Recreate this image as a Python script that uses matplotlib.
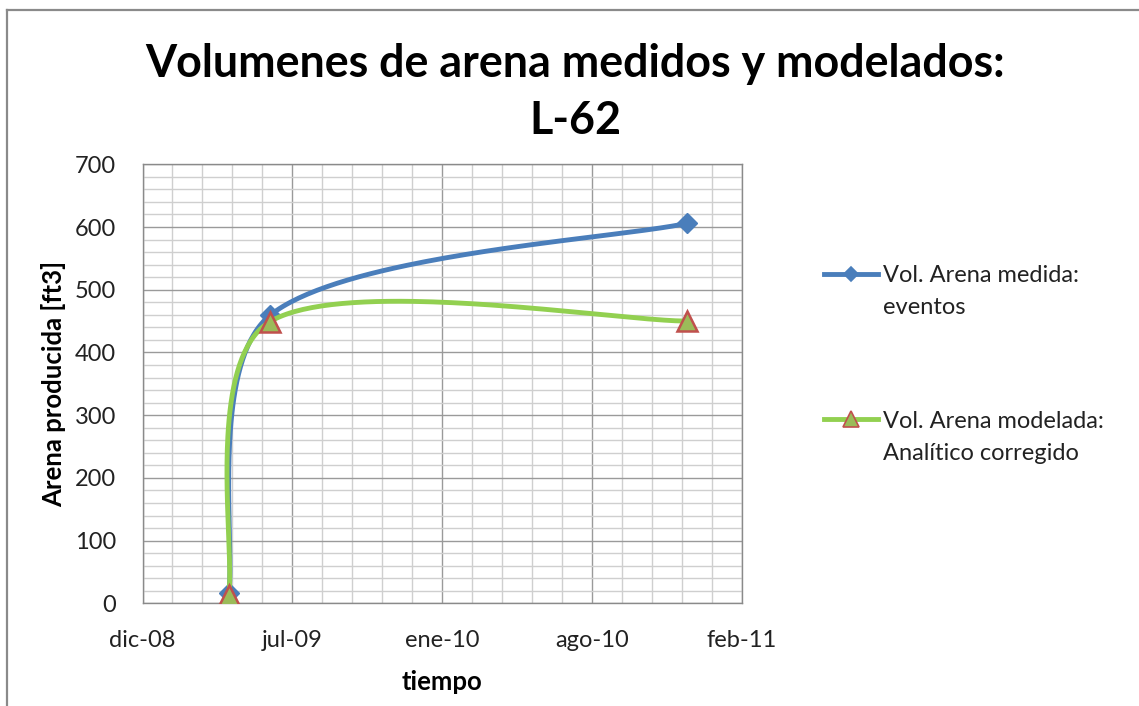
import numpy as np
import matplotlib
matplotlib.use('Agg')
import matplotlib.pyplot as plt
import matplotlib.dates as mdates
from matplotlib.lines import Line2D
from matplotlib.ticker import FixedLocator, NullFormatter
from datetime import datetime

plt.rcParams['font.family'] = ['Lato', 'DejaVu Sans']

# datos
fechas = ['2009-04-12', '2009-06-06', '2010-12-15']
medida = [16, 459, 606]
modelada = [13, 449, 450]
x_labels = ['dic-08', 'jul-09', 'ene-10', 'ago-10', 'feb-11']
x_inicio = '2008-12-18'
y_ticks = [0, 100, 200, 300, 400, 500, 600, 700]

azul = '#4a7ebb'
verde = '#92d050'
verde_marker = '#9bbb59'
rojo = '#c0504d'
W, H = 1139, 706

x = mdates.date2num([datetime.strptime(f, '%Y-%m-%d') for f in fechas])
x0 = mdates.date2num(datetime.strptime(x_inicio, '%Y-%m-%d'))
major = [x0 + 200 * i for i in range(len(x_labels))]
minor = [x0 + 40 * i for i in range(5 * (len(x_labels) - 1) + 1)]

fig = plt.figure(figsize=(W / 100, H / 100), dpi=100)
ax = fig.add_axes([142.5 / W, 1 - 603.3 / H, 599.5 / W, 439 / H])
ax.set_xlim(major[0], major[-1])
ax.set_ylim(0, 700)


def suavizado(xs, ys, n=80):
    # curva suavizada tipo Excel (bezier, tension 1/6) calculada en pixeles
    pts = ax.transData.transform(np.column_stack([xs, ys]))
    p = np.vstack([pts[0], pts, pts[-1]])
    t = np.linspace(0, 1, n)[:, None]
    segs = []
    for i in range(1, len(p) - 2):
        p0, p1, p2, p3 = p[i - 1], p[i], p[i + 1], p[i + 2]
        seg = np.hypot(*(p2 - p1))
        v1 = (p2 - p0) / 6
        v2 = (p3 - p1) / 6
        lim = seg / 3.6
        if np.hypot(*v1) > lim:
            v1 = v1 * lim / np.hypot(*v1)
        if np.hypot(*v2) > lim:
            v2 = v2 * lim / np.hypot(*v2)
        c1 = p1 + v1
        c2 = p2 - v2
        segs.append((1 - t) ** 3 * p1 + 3 * (1 - t) ** 2 * t * c1
                    + 3 * (1 - t) * t ** 2 * c2 + t ** 3 * p2)
    c = ax.transData.inverted().transform(np.vstack(segs))
    return c[:, 0], c[:, 1]


cx, cy = suavizado(x, medida)
ax.plot(cx, cy, color=azul, lw=3.5, solid_capstyle='round', zorder=3)
ax.plot(x, medida, ls='none', marker='D', ms=10, color=azul, zorder=4)

cx, cy = suavizado(x, modelada)
ax.plot(cx, cy, color=verde, lw=3.5, solid_capstyle='round', zorder=5)
ax.plot(x, modelada, ls='none', marker='^', ms=15, mfc=verde_marker,
        mec=rojo, mew=1.8, zorder=6)

ax.xaxis.set_major_locator(FixedLocator(major))
ax.xaxis.set_minor_locator(FixedLocator(minor))
ax.set_xticklabels(x_labels)
ax.xaxis.set_minor_formatter(NullFormatter())
ax.set_yticks(y_ticks)
ax.yaxis.set_minor_locator(FixedLocator(np.arange(0, 701, 20)))
ax.grid(which='major', color='#9a9a9a', lw=1)
ax.grid(which='minor', color='#cfcfcf', lw=1)
ax.set_axisbelow(True)
ax.tick_params(which='both', length=0, labelsize=17, labelcolor='#222222')
ax.tick_params(axis='x', pad=19)
ax.tick_params(axis='y', pad=19)
for s in ax.spines.values():
    s.set_color('#8a8a8a')
    s.set_linewidth(1)

ax.set_xlabel('tiempo', fontsize=18.5, fontweight='bold', labelpad=14)
ax.set_ylabel('Arena producida [ft3]', fontsize=18.5, fontweight='bold', labelpad=6)

# titulo en dos lineas
titulo = ['Volumenes de arena medidos y modelados:', 'L-62']
for yb, linea in zip([77, 133.5], titulo):
    fig.text(575 / W, 1 - yb / H, linea, ha='center', va='baseline',
             fontsize=32.3, fontweight='bold')

# leyenda
leyenda = [
    (274, 281.7, azul, 'D', 7, azul, azul, ['Vol. Arena medida:', 'eventos']),
    (419, 427.7, verde, '^', 12, verde_marker, rojo,
     ['Vol. Arena modelada:', 'Analítico corregido']),
]
for yy, yb, col, mk, ms, fc, ec, txt in leyenda:
    yf = 1 - yy / H
    fig.add_artist(Line2D([824 / W, 878 / W], [yf, yf], color=col, lw=3.5))
    fig.add_artist(Line2D([851 / W], [yf], ls='none', marker=mk, ms=ms,
                          mfc=fc, mec=ec, mew=1.2))
    for k, linea in enumerate(txt):
        fig.text(883 / W, 1 - (yb + 32 * k) / H, linea, ha='left', va='baseline',
                 fontsize=17, color='#222222')

# borde del area del grafico
fig.add_artist(Line2D([7 / W, 7 / W], [0, 1 - 10 / H], color='#8a8a8a', lw=1.6))
fig.add_artist(Line2D([7 / W, 1], [1 - 10 / H, 1 - 10 / H], color='#8a8a8a', lw=1.6))

fig.savefig('out.png', dpi=100)
